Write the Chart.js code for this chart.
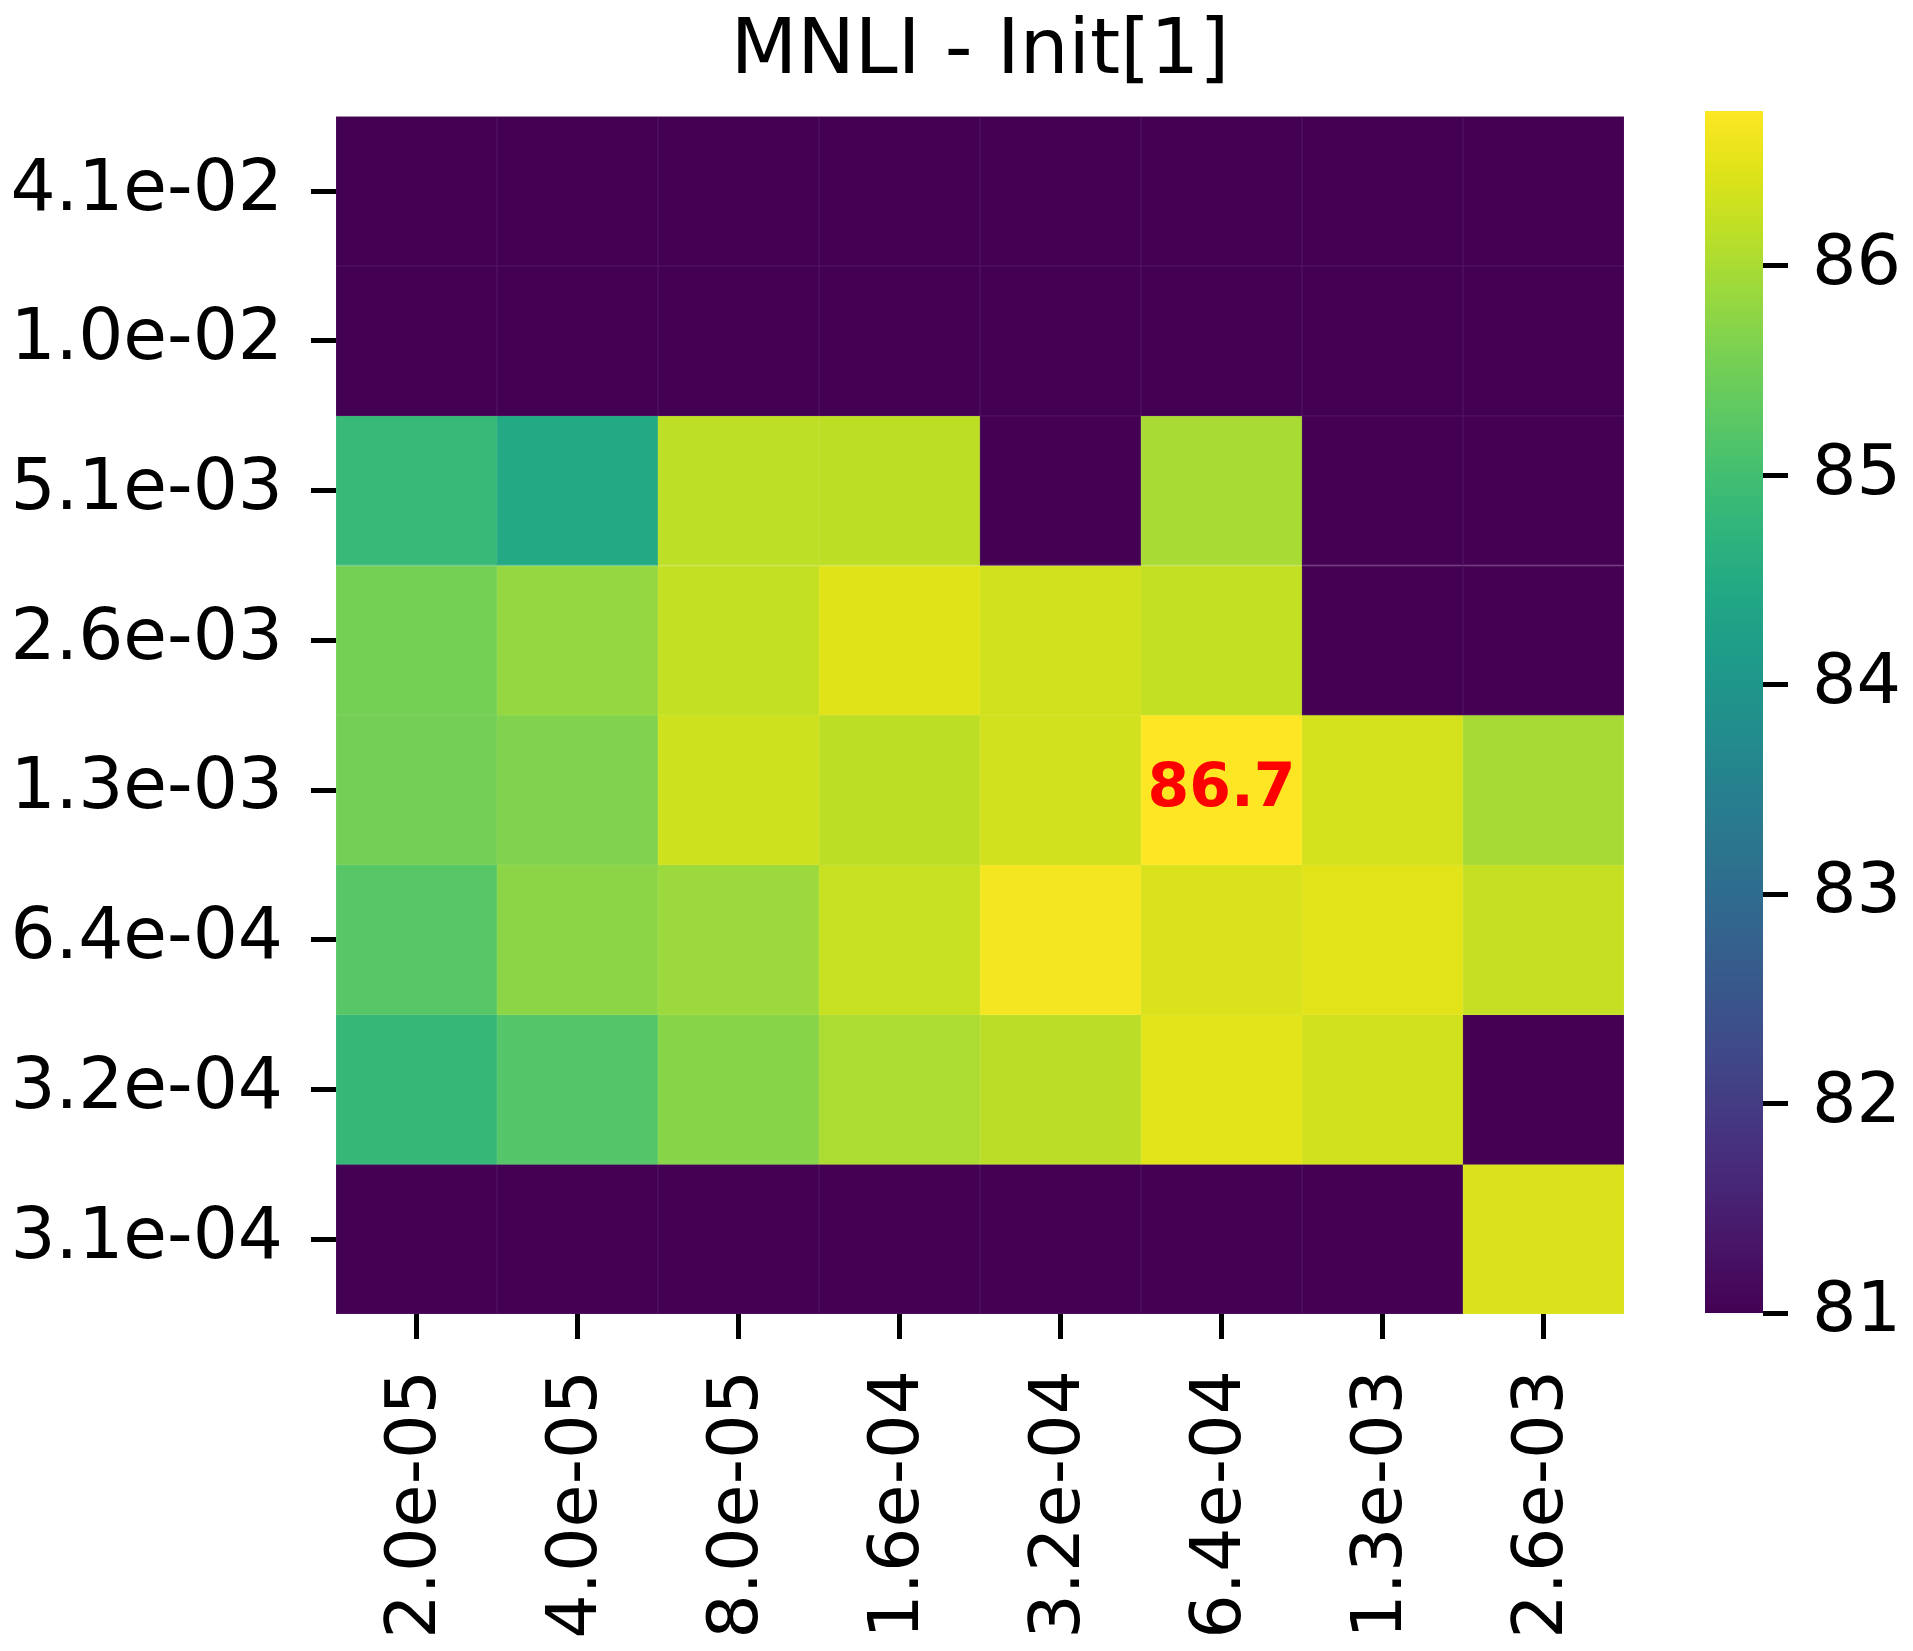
<!DOCTYPE html>
<html>
<head>
<meta charset="utf-8">
<script src="https://cdn.jsdelivr.net/npm/chart.js@4"></script>
<style>
    html, body { margin: 0; padding: 0; background: #fff; width: 1913px; height: 1651px; overflow: hidden; }
    #heat { position: absolute; left: 0; top: 0; }
    #cbar { position: absolute; left: 1600px; top: 0; }
</style>
</head>
<body>
<canvas id="heat" width="1960" height="1651"></canvas>
<canvas id="cbar" width="313" height="1651"></canvas>
<script>
// learning rate (columns) and weight decay (rows)
const xLabels = ['2.0e-05', '4.0e-05', '8.0e-05', '1.6e-04', '3.2e-04', '6.4e-04', '1.3e-03', '2.6e-03'];
const yLabels = ['4.1e-02', '1.0e-02', '5.1e-03', '2.6e-03', '1.3e-03', '6.4e-04', '3.2e-04', '3.1e-04'];

// accuracy per row (cells at the bottom of the scale shown as 81)
const row41e2 = [81.0, 81.0, 81.0, 81.0, 81.0, 81.0, 81.0, 81.0];
const row10e2 = [81.0, 81.0, 81.0, 81.0, 81.0, 81.0, 81.0, 81.0];
const row51e3 = [84.85, 84.47, 86.17, 86.16, 81.0, 85.99, 81.0, 81.0];
const row26e3 = [85.53, 85.82, 86.22, 86.45, 86.34, 86.22, 81.0, 81.0];
const row13e3 = [85.52, 85.65, 86.31, 86.16, 86.34, 86.74, 86.35, 85.97];
const row64e4 = [85.22, 85.74, 85.88, 86.25, 86.65, 86.40, 86.48, 86.23];
const row32e4 = [84.82, 85.19, 85.71, 86.02, 86.14, 86.48, 86.34, 81.0];
const row31e4 = [81.0, 81.0, 81.0, 81.0, 81.0, 81.0, 81.0, 86.40];
const rows = [row41e2, row10e2, row51e3, row26e3, row13e3, row64e4, row32e4, row31e4];

const cbTicks = [81, 82, 83, 84, 85, 86];
const vmin = 81;
const vmax = Math.max(...rows.flat());

const FONT = "'DejaVu Sans', sans-serif";

// viridis, every 0.05
const viridis = ['#440154', '#471365', '#482475', '#463480', '#414487', '#3b528b', '#355f8d',
    '#2f6c8e', '#2a788e', '#25848e', '#21918c', '#1e9c89', '#22a884', '#2fb47c', '#44bf70',
    '#5ec962', '#7ad151', '#9bd93c', '#bddf26', '#dfe318', '#fde725'];

let hexToRgb = function (h) {
    return [parseInt(h.slice(1, 3), 16), parseInt(h.slice(3, 5), 16), parseInt(h.slice(5, 7), 16)];
};

// rgb of a value on the viridis scale, optionally mixed with some white
let viridisRgb = function (v, white) {
    let t = (v - vmin) / (vmax - vmin);
    t = Math.min(1, Math.max(0, t));
    const pos = t * (viridis.length - 1);
    const i = Math.min(viridis.length - 2, Math.floor(pos));
    const f = pos - i;
    const a = hexToRgb(viridis[i]), b = hexToRgb(viridis[i + 1]);
    const c = a.map((x, k) => x + (b[k] - x) * f).map(x => Math.round(x + (255 - x) * (white || 0)));
    return 'rgb(' + c[0] + ',' + c[1] + ',' + c[2] + ')';
};

// red label on the best cell
const bestLabel = {
    id: 'bestLabel',
    afterDatasetsDraw(chart) {
        let best = -Infinity, br = 0, bc = 0;
        rows.forEach((r, i) => r.forEach((v, j) => {
            if (v > best) { best = v; br = i; bc = j; }
        }));
        const ctx = chart.ctx;
        ctx.save();
        ctx.fillStyle = '#ff0000';
        ctx.font = 'bold 60px ' + FONT;
        ctx.textAlign = 'center';
        ctx.textBaseline = 'middle';
        ctx.fillText(best.toFixed(1), chart.scales.x.getPixelForValue(bc), chart.scales.y.getPixelForValue(br + 0.5));
        ctx.restore();
    }
};

new Chart(
    document.getElementById('heat').getContext('2d'),
    {
        type: 'bar',
        data: {
            labels: xLabels,
            datasets: rows.map((r, i) => ({
                data: xLabels.map(() => [i, i + 1]),
                backgroundColor: r.map(v => viridisRgb(v, 0)),
                borderColor: r.map(v => viridisRgb(v, 0.07)),
                borderWidth: 1,
                borderSkipped: false,
                barPercentage: 1,
                categoryPercentage: 1,
                grouped: false
            }))
        },
        options: {
            responsive: false,
            animation: false,
            devicePixelRatio: 1,
            layout: {padding: 0},
            plugins: {
                legend: {display: false},
                tooltip: {enabled: false},
                title: {
                    display: true,
                    text: 'MNLI - Init[1]',
                    color: '#000',
                    font: {family: FONT, size: 77, weight: 'normal', lineHeight: 1.2},
                    padding: {top: 7, bottom: 17}
                }
            },
            scales: {
                x: {
                    offset: true,
                    grid: {display: true, offset: false, drawOnChartArea: false, drawTicks: true,
                        tickLength: 25, tickWidth: 5, tickColor: '#000'},
                    border: {display: false},
                    ticks: {color: '#000', font: {family: FONT, size: 70}, padding: 31,
                        autoSkip: false, minRotation: 90, maxRotation: 90},
                    afterFit: function (axis) { axis.height = 337; }
                },
                y: {
                    min: 0, max: 8, reverse: true,
                    grid: {display: true, drawOnChartArea: false, drawTicks: true,
                        tickLength: 25, tickWidth: 5, tickColor: '#000'},
                    border: {display: false},
                    ticks: {color: '#000', font: {family: FONT, size: 71}, padding: 28, autoSkip: false,
                        callback: function (value) { return yLabels[Math.floor(value)]; }},
                    afterBuildTicks: function (axis) {
                        axis.ticks = yLabels.map((_, i) => ({value: i + 0.5}));
                    },
                    afterFit: function (axis) { axis.width = 336; }
                },
                // empty right-hand axis, keeps the plot (and the title) centred on the canvas
                spacer: {
                    type: 'linear',
                    position: 'right',
                    grid: {display: false},
                    border: {display: false},
                    ticks: {display: false},
                    afterFit: function (axis) { axis.width = 336; }
                }
            }
        },
        plugins: [bestLabel]
    });

// colour bar
new Chart(
    document.getElementById('cbar').getContext('2d'),
    {
        type: 'bar',
        data: {
            labels: ['cb'],
            datasets: [{
                data: [[vmin, vmax]],
                backgroundColor: function (c) {
                    const area = c.chart.chartArea;
                    if (!area) return viridis[0];
                    const g = c.chart.ctx.createLinearGradient(0, area.bottom, 0, area.top);
                    viridis.forEach((h, i) => g.addColorStop(i / (viridis.length - 1), h));
                    return g;
                },
                borderWidth: 0,
                barPercentage: 1,
                categoryPercentage: 1
            }]
        },
        options: {
            responsive: false,
            animation: false,
            devicePixelRatio: 1,
            layout: {padding: {left: 105, right: 0, top: 111, bottom: 338}},
            plugins: {legend: {display: false}, tooltip: {enabled: false}},
            scales: {
                x: {display: false},
                y: {
                    position: 'right',
                    min: vmin, max: vmax,
                    grid: {display: true, drawOnChartArea: false, drawTicks: true,
                        tickLength: 25, tickWidth: 5, tickColor: '#000'},
                    border: {display: false},
                    ticks: {color: '#000', font: {family: FONT, size: 70}, padding: 24},
                    afterBuildTicks: function (axis) {
                        axis.ticks = cbTicks.map(v => ({value: v}));
                    },
                    afterFit: function (axis) { axis.width = 150; }
                }
            }
        }
    });
</script>
</body>
</html>
